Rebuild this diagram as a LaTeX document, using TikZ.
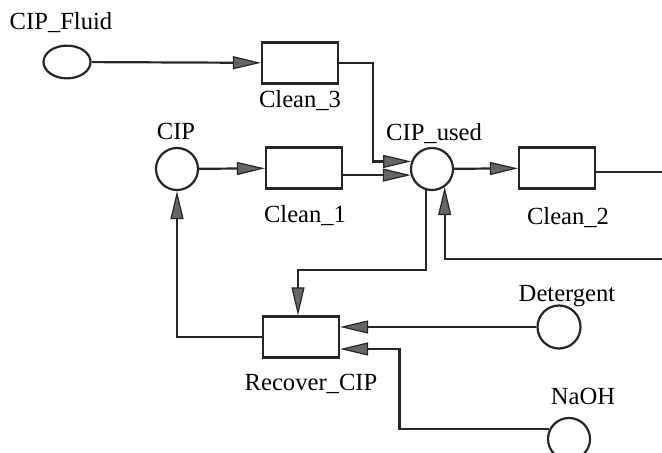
\documentclass[tikz,border=0pt]{standalone}
\usepackage{fontspec}
\setmainfont{Liberation Serif}
\usetikzlibrary{positioning, arrows.meta, shapes.geometric}

\begin{document}
\begin{tikzpicture}[
    x=0.5pt, y=-0.5pt,
    font=\fontsize{12.3}{14}\selectfont,
    proc/.style={draw=black!85, line width=1.1pt, rectangle, minimum width=38pt, minimum height=20.5pt, inner sep=0pt},
    place/.style={draw=black!85, line width=1.1pt, circle, minimum size=21pt, inner sep=0pt},
    wire/.style={draw=black!85, line width=1.1pt},
    flow/.style={wire, -{Triangle[length=14pt, width=6.5pt, fill=black!60, line width=0.6pt]}},
    lbl/.style={inner sep=0pt}
]
    \useasboundingbox (0,0) rectangle (662,453);

    % places and transitions
    \node[place, xscale=1.12, yscale=0.78] (fluid) at (67,62) {};
    \node[proc] (clean3) at (300,63) {};
    \node[place] (cip) at (177,169) {};
    \node[proc] (clean1) at (304,168) {};
    \node[place] (cipused) at (432,169) {};
    \node[proc] (clean2) at (557,168) {};
    \node[proc] (recover) at (301,337) {};
    \node[place, minimum size=21.5pt] (det) at (559,327) {};
    \node[place] (naoh) at (569,439) {};

    % labels
    \node[lbl] (fluidlbl) at (61,23) {CIP\_Fluid};
    \node[lbl] (clean3lbl) at (300,101) {Clean\_3};
    \node[lbl] (ciplbl) at (176,131) {CIP};
    \node[lbl] (clean1lbl) at (305,216) {Clean\_1};
    \node[lbl] (cipusedlbl) at (434,134) {CIP\_used};
    \node[lbl] (clean2lbl) at (568,218) {Clean\_2};
    \node[lbl] (detlbl) at (567,296) {Detergent};
    \node[lbl] (recoverlbl) at (311,384) {Recover\_CIP};
    \node[lbl] (naohlbl) at (583,396) {NaOH};

    % loose ends at the right border
    \coordinate (rim) at (670,172);
    \coordinate (back) at (670,259);

    % arcs
    \draw[flow] (fluid) -- (clean3);
    \draw[flow] (clean3.east) -- ++(34,0) |- (cipused.160);
    \draw[flow] (cip) -- (clean1);
    \draw[flow] (clean1.east |- cipused.196) -- (cipused.196);
    \draw[flow] (cipused) -- (clean2);
    \draw[wire] (clean2.east |- rim) -- (rim);
    \draw[flow] (back) -| (cipused.-55);
    \draw[flow] (cipused.-105) -- ++(0,80) -| ([xshift=-1.5pt]recover.north);
    \draw[flow] (recover.west) -| (cip.south);
    \draw[flow] (det) -- ([yshift=5pt]recover.east);
    \draw[flow] (naoh.152) -- ++(-150,0) |- ([yshift=-6pt]recover.east);
\end{tikzpicture}
\end{document}
